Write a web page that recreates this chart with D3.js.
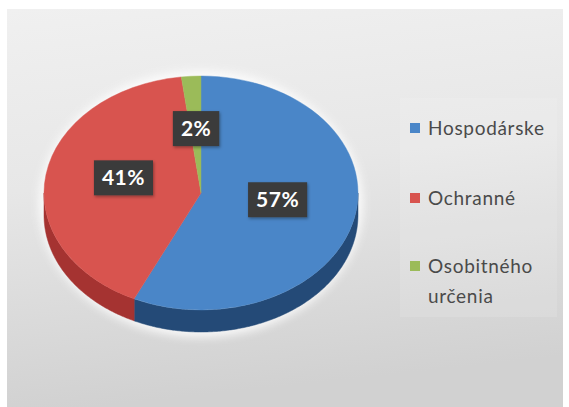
<!DOCTYPE html>
<html><head><meta charset="utf-8">
<script src="https://cdn.jsdelivr.net/npm/d3@7"></script>
<style>
  body { margin: 0; background: #fff; }
  text { font-family: Lato, "Open Sans", sans-serif; }
</style>
</head><body>
<svg id="chart" width="569" height="407"></svg>
<script>
// Forest categories and their shares
const categories = ["Hospodárske", "Ochranné", "Osobitného určenia"];
const legendLines = [["Hospodárske"], ["Ochranné"], ["Osobitného", "určenia"]];
const shares = [57, 41, 2];
const labels = ["57%", "41%", "2%"];
const topColors = ["#4a86c8", "#d8544f", "#9bbb59"];
const sideColors = ["#244a77", "#a53331", "#6f8a3a"];

const W = 569, H = 407;
const cx = 201, cy = 193, rx = 157, ry = 117, depth = 22;

const svg = d3.select("#chart");
const defs = svg.append("defs");

// panel background
const bg = defs.append("linearGradient").attr("id", "bg")
  .attr("x1", 0).attr("y1", 0).attr("x2", 0.15).attr("y2", 1);
bg.append("stop").attr("offset", 0).attr("stop-color", "#f0f0f0");
bg.append("stop").attr("offset", 0.45).attr("stop-color", "#e7e7e7");
bg.append("stop").attr("offset", 1).attr("stop-color", "#d1d1d1");

const glow = defs.append("filter").attr("id", "glow")
  .attr("x", "-20%").attr("y", "-20%").attr("width", "140%").attr("height", "140%");
glow.append("feGaussianBlur").attr("stdDeviation", 5);

const boxShadow = defs.append("filter").attr("id", "boxShadow")
  .attr("x", "-30%").attr("y", "-30%").attr("width", "160%").attr("height", "160%");
boxShadow.append("feDropShadow").attr("dx", 1).attr("dy", 1.5)
  .attr("stdDeviation", 1.5).attr("flood-color", "#000").attr("flood-opacity", 0.35);

svg.append("rect").attr("x", 7).attr("y", 9).attr("width", 556).attr("height", H - 9)
  .attr("fill", "url(#bg)");

// legend panel
svg.append("rect").attr("x", 400).attr("y", 98).attr("width", 157).attr("height", 219)
  .attr("fill", "#ffffff").attr("fill-opacity", 0.12);

// soft light halo around the pie
svg.append("ellipse")
  .attr("cx", cx).attr("cy", cy + depth / 2)
  .attr("rx", rx + 5).attr("ry", ry + depth / 2 + 5)
  .attr("fill", "#ffffff").attr("opacity", 0.85)
  .attr("filter", "url(#glow)");

const pie = d3.pie().sort(null).value(d => d);
const arcs = pie(shares);

const proj = (a, r = 1, dz = 0) => [cx + rx * r * Math.sin(a), cy - ry * r * Math.cos(a) + dz];

// outer walls (only the front half is visible)
const line = d3.line();
const walls = svg.append("g");
arcs.forEach((d, i) => {
  const a0 = Math.max(d.startAngle, Math.PI / 2);
  const a1 = Math.min(d.endAngle, 3 * Math.PI / 2);
  if (a0 >= a1) return;
  const steps = d3.range(a0, a1, 0.01).concat([a1]);
  const pts = steps.map(a => proj(a)).concat(steps.slice().reverse().map(a => proj(a, 1, depth)));
  walls.append("path")
    .attr("d", line(pts) + "Z")
    .attr("fill", sideColors[i])
    .attr("stroke", sideColors[i]).attr("stroke-width", 0.5);
});

// top face: circular arcs squashed into an ellipse
const arc = d3.arc().innerRadius(0).outerRadius(rx);
const face = svg.append("g")
  .attr("transform", `translate(${cx},${cy}) scale(1,${ry / rx})`);
face.selectAll("path").data(arcs).join("path")
  .attr("d", arc)
  .attr("fill", (d, i) => topColors[i])
  .attr("stroke", (d, i) => topColors[i]).attr("stroke-width", 0.5);

// data labels
const lab = svg.append("g");
arcs.forEach((d, i) => {
  const mid = (d.startAngle + d.endAngle) / 2;
  const [x, y] = proj(mid, 0.5, -6);
  const g = lab.append("g").attr("transform", `translate(${x},${y})`);
  const rect = g.append("rect").attr("fill", "#3a3a3a").attr("filter", "url(#boxShadow)");
  const t = g.append("text")
    .attr("text-anchor", "middle").attr("dy", "0.36em")
    .attr("font-size", 21).attr("font-weight", 700).attr("fill", "#ffffff")
    .attr("letter-spacing", 0.5)
    .text(labels[i]);
  const w = t.node().getComputedTextLength();
  rect.attr("x", -w / 2 - 8).attr("y", -17.5).attr("width", w + 16).attr("height", 35);
});

// legend
const legend = svg.append("g");
const rowY = [135, 205, 273];
categories.forEach((c, i) => {
  legend.append("rect")
    .attr("x", 410).attr("y", rowY[i] - 12).attr("width", 10).attr("height", 10)
    .attr("fill", topColors[i]);
  const t = legend.append("text").attr("x", 428).attr("y", rowY[i])
    .attr("font-size", 19).attr("letter-spacing", 0.7).attr("fill", "#4a4a4a");
  legendLines[i].forEach((ln, j) => {
    t.append("tspan").attr("x", 428).attr("dy", j === 0 ? 0 : 30).text(ln);
  });
});
</script>
</body></html>
